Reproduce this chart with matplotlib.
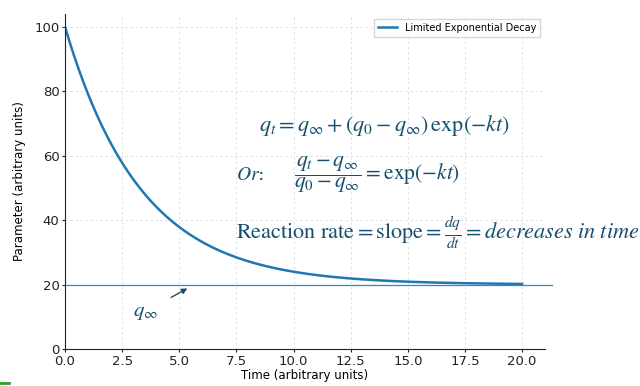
import numpy as np
import matplotlib
matplotlib.use("Agg")
import matplotlib.pyplot as plt
from matplotlib.lines import Line2D

plt.rcParams['mathtext.fontset'] = 'stix'

# Data
q0 = 100.0
q_inf = 20.0
k = 0.3
t = np.linspace(0, 20, 400)
q = q_inf + (q0 - q_inf) * np.exp(-k * t)

x_ticks = [0.0, 2.5, 5.0, 7.5, 10.0, 12.5, 15.0, 17.5, 20.0]
y_ticks = [0, 20, 40, 60, 80, 100]

eq_color = '#174e6e'

fig = plt.figure(figsize=(6.4, 3.86), dpi=100)
ax = fig.add_axes([0.1016, 0.0959, 0.75, 0.8678])

ax.plot(t, q, color='#1f77b4', lw=1.8, label='Limited Exponential Decay')
ax.set_xlim(left=0, right=21)
ax.set_ylim(0, 104)
ax.plot([0, 21.3], [q_inf, q_inf], color='#2e88cc', lw=0.9, clip_on=False)

ax.set_xticks(x_ticks)
ax.set_yticks(y_ticks)
ax.tick_params(labelsize=9.5, colors='#222222', length=2.5, pad=1.5)
ax.grid(True, ls=(0, (3, 3)), color='#dddddd', lw=0.6)
for s in ['top', 'right']:
    ax.spines[s].set_visible(False)
for s in ['left', 'bottom']:
    ax.spines[s].set_color('#222222')

ax.set_xlabel('Time (arbitrary units)', fontsize=8.5, labelpad=1)
ax.set_ylabel('Parameter (arbitrary units)', fontsize=8.5, labelpad=6)

ax.legend(loc='upper right', fontsize=7, frameon=True, fancybox=False,
          edgecolor='#cccccc', handlelength=2)

ax.text(14.0, 69.5, r'$q_t = q_\infty + (q_0 - q_\infty)\,\exp(-kt)$',
        fontsize=16, color=eq_color, ha='center', va='center')
ax.text(7.5, 54, r'$Or$:', fontsize=14, color=eq_color, ha='left', va='center',
        family='DejaVu Serif')
ax.text(10.0, 54, r'$\dfrac{q_t - q_\infty}{q_0 - q_\infty} = \exp(-kt)$',
        fontsize=15.5, color=eq_color, ha='left', va='center')
ax.text(7.5, 36, r'$\mathrm{Reaction\ rate} = \mathrm{slope} = \frac{dq}{dt} = decreases\ in\ time$',
        fontsize=16, color=eq_color, ha='left', va='center', clip_on=False)

ax.annotate(r'$q_\infty$', xy=(5.35, 18.8), xytext=(3.5, 11.5),
            fontsize=15, color=eq_color, ha='center', va='center',
            arrowprops=dict(arrowstyle='-|>', color=eq_color, lw=1.0,
                            mutation_scale=8, shrinkA=9, shrinkB=0))

fig.add_artist(Line2D([0.0, 0.014], [0.008, 0.008], color='#2ca02c', lw=2))

fig.savefig('out.png', dpi=100)
